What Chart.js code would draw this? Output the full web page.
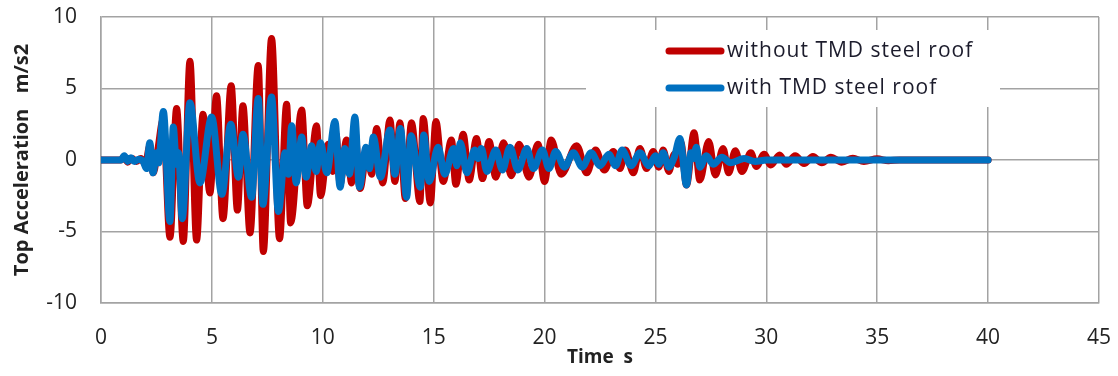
<!DOCTYPE html>
<html>
<head>
<meta charset="utf-8">
<script src="https://cdn.jsdelivr.net/npm/chart.js@4.4.1/dist/chart.umd.min.js"></script>
<style>
  html, body { margin: 0; padding: 0; background: #fff; }
  #wrap { width: 1118px; height: 376px; }
</style>
</head>
<body>
<div id="wrap"><canvas id="myChart" width="1118" height="376"></canvas></div>
<script>
// time (s) / top acceleration (m/s2), peaks and troughs
const redTime = [0, 0.9, 1.05, 1.2, 1.4, 1.6, 1.8, 2.0, 2.2, 2.35, 2.55, 2.8, 3.11, 3.41, 3.71, 4.01, 4.31, 4.6, 4.91, 5.21,
  5.5, 5.87, 6.15, 6.4, 6.72, 7.09, 7.32, 7.69, 8.05, 8.37, 8.55, 9.05, 9.3, 9.72, 9.9, 10.25, 10.45, 10.6, 10.78, 11.07,
  11.3, 11.45, 11.68, 12.0, 12.2, 12.43, 12.7, 13.03, 13.25, 13.48, 13.72, 14.0, 14.38, 14.53, 14.85, 15.1, 15.43, 15.8, 16.0, 16.33,
  16.6, 16.93, 17.2, 17.5, 17.8, 18.15, 18.5, 18.85, 19.3, 19.7, 20.0, 20.3, 20.75, 21.45, 21.9, 22.3, 22.7, 23.1, 23.4, 23.65,
  24.0, 24.3, 24.6, 24.9, 25.15, 25.35, 25.6, 25.85, 26.0, 26.15, 26.4, 26.74, 27.0, 27.4, 27.7, 28.05, 28.3, 28.6, 28.9, 29.3,
  29.55, 29.9, 30.2, 30.6, 30.9, 31.3, 31.7, 32.1, 32.5, 32.9, 33.4, 33.9, 34.4, 35.0, 35.5, 36.0, 40.0]
const redAccel = [0, 0, 0.25, -0.15, 0.1, -0.1, 0.1, -0.3, 1.0, -0.9, 0.6, 2.8, -5.4, 3.6, -5.7, 6.9, -5.6, 3.2, -2.3, 4.5,
  -4.1, 5.2, -3.5, 3.8, -5.1, 6.6, -6.4, 8.5, -5.5, 3.9, -4.4, 3.5, -3.2, 2.4, -2.5, 1.1, -0.8, 1.8, -1.7, 1.4,
  -1.6, 2.0, -2.0, 0.8, -1.0, 2.2, -1.6, 2.8, -1.5, 2.6, -2.7, 2.6, -2.9, 2.9, -3.0, 2.7, -1.5, 1.4, -1.7, 1.8,
  -1.4, 1.5, -1.3, 1.3, -1.2, 1.2, -1.1, 1.1, -1.2, 1.1, -1.5, 1.4, -1.0, 1.0, -0.9, 0.7, -0.7, 0.6, -0.6, 0.7,
  -0.9, 0.8, -0.6, 0.6, -0.5, 0.7, -0.8, 0.4, -0.3, 1.2, -1.75, 1.9, -1.4, 1.3, -1.05, 0.8, -0.9, 0.65, -0.8, 0.5,
  -0.45, 0.4, -0.35, 0.35, -0.3, 0.3, -0.25, 0.25, -0.2, 0.2, -0.15, 0.12, -0.1, 0.08, -0.05, 0, 0]

const blueTime = [0, 0.9, 1.05, 1.2, 1.35, 1.5, 1.7, 1.9, 2.05, 2.2, 2.35, 2.5, 2.6, 2.81, 3.11, 3.26, 3.4, 3.5, 3.66, 4.01,
  4.46, 4.99, 5.45, 5.85, 6.2, 6.4, 6.79, 7.09, 7.3, 7.69, 8.0, 8.3, 8.45, 8.6, 8.8, 9.05, 9.25, 9.5, 9.7, 9.9,
  10.18, 10.55, 10.78, 11.0, 11.2, 11.45, 11.65, 11.95, 12.1, 12.28, 12.6, 13.03, 13.25, 13.5, 13.78, 13.98, 14.4, 14.55, 14.8, 15.2,
  15.5, 15.9, 16.05, 16.2, 16.5, 16.85, 17.0, 17.15, 17.4, 17.8, 18.1, 18.44, 18.8, 19.2, 19.5, 19.9, 20.2, 20.5, 20.9, 21.3,
  21.7, 22.1, 22.5, 22.9, 23.2, 23.5, 23.9, 24.3, 24.7, 25.0, 25.15, 25.35, 25.6, 25.85, 26.1, 26.4, 26.6, 26.7, 26.85, 27.0,
  27.3, 27.6, 28.0, 28.4, 29.0, 29.5, 30.0, 40.0]
const blueAccel = [0, 0, 0.3, -0.1, 0.15, -0.1, 0.05, -0.1, -0.6, 1.2, -0.9, 0.5, -0.2, 3.4, -4.3, 2.3, -0.3, 0.5, -4.1, 4.0,
  -1.6, 3.0, -2.4, 2.5, -1.2, 1.8, -2.6, 4.3, -3.1, 4.4, -3.6, 0.5, -1.0, 2.4, -1.6, 1.6, -1.2, 1.0, -0.8, 1.2,
  -0.9, 2.7, -1.9, 0.8, -1.0, 3.0, -1.9, 0.9, -0.6, 1.6, -1.2, 2.1, -1.0, 2.2, -2.6, 1.7, -1.9, 1.75, -1.5, 0.9,
  -1.0, 0.8, -0.4, 1.2, -0.9, 0.7, 0.1, 0.8, -0.8, 0.7, -0.7, 0.9, -0.7, 0.8, -0.6, 0.7, -0.6, 0.6, -0.5, 0.5,
  -0.5, 0.5, -0.4, 0.4, -0.4, 0.7, -0.4, 0.5, -0.4, 0.3, -0.3, 0.5, -0.5, 0.2, 1.5, -1.75, 0.5, 0.1, 0.9, -0.5,
  0.3, -0.3, 0.2, -0.2, 0.1, -0.1, 0, 0]

const xTicks = [0, 5, 10, 15, 20, 25, 30, 35, 40, 45]
const yTicks = [-10, -5, 0, 5, 10]

const toPoints = (times, values) => times.map((t, i) => ({ x: t, y: values[i] }))

const GRID = '#a3a3a3'
const TEXT = '#222'
const FONT = "'Open Sans', 'Liberation Sans', sans-serif"

// legend sits inside the plot, top right, on a white box
const insideLegend = {
  id: 'insideLegend',
  afterDraw(chart) {
    const { ctx } = chart
    const box = { x: 586, y: 30, w: 414, h: 77 }
    ctx.save()
    ctx.fillStyle = '#fff'
    ctx.fillRect(box.x, box.y, box.w, box.h)
    ctx.font = `21px ${FONT}`
    ctx.letterSpacing = '1px'
    ctx.textBaseline = 'middle'
    ctx.textAlign = 'left'
    const rows = [chart.data.datasets[0], chart.data.datasets[1]]
    rows.forEach((ds, i) => {
      const y = 51 + i * 37
      ctx.strokeStyle = ds.borderColor
      ctx.lineWidth = 7
      ctx.lineCap = 'round'
      ctx.beginPath()
      ctx.moveTo(669, y)
      ctx.lineTo(721, y)
      ctx.stroke()
      ctx.fillStyle = '#1c1c2c'
      ctx.fillText(ds.label, 727, y)
    })
    ctx.restore()
  },
}

const noScalePadding = (scale) => {
  scale.paddingTop = 0
  scale.paddingBottom = 0
  scale.paddingLeft = 0
  scale.paddingRight = 0
}

const ctx = document.getElementById('myChart').getContext('2d')
const myChart = new Chart(ctx, {
  type: 'line',
  data: {
    datasets: [
      {
        label: 'without TMD steel roof',
        data: toPoints(redTime, redAccel),
        borderColor: '#c00000',
        borderWidth: 7,
        order: 2,
      },
      {
        label: 'with TMD steel roof',
        data: toPoints(blueTime, blueAccel),
        borderColor: '#0070c0',
        borderWidth: 7,
        order: 1,
      },
    ],
  },
  options: {
    responsive: false,
    animation: false,
    layout: { padding: { left: 0, top: 17, right: 19, bottom: 0 } },
    elements: {
      point: { radius: 0 },
      line: { cubicInterpolationMode: 'monotone', borderJoinStyle: 'round', borderCapStyle: 'round' },
    },
    plugins: {
      legend: { display: false },
      tooltip: { enabled: false },
    },
    scales: {
      x: {
        type: 'linear',
        min: 0,
        max: 45,
        afterBuildTicks: (scale) => { scale.ticks = xTicks.map((v) => ({ value: v })) },
        afterFit: (scale) => { scale.height = 73; noScalePadding(scale) },
        grid: { color: GRID, lineWidth: 1.5, drawTicks: false },
        border: { color: GRID, width: 1.5 },
        ticks: { color: TEXT, font: { family: FONT, size: 21 }, padding: 22, maxRotation: 0 },
        title: {
          display: true,
          text: 'Time  s',
          color: TEXT,
          font: { family: FONT, size: 19, weight: 'bold' },
          padding: { top: 0, bottom: 7 },
        },
      },
      y: {
        min: -10,
        max: 10,
        afterBuildTicks: (scale) => { scale.ticks = yTicks.map((v) => ({ value: v })) },
        afterFit: (scale) => { scale.width = 101; noScalePadding(scale) },
        grid: { color: GRID, lineWidth: 1.5, drawTicks: false },
        border: { color: GRID, width: 1.5 },
        ticks: { color: TEXT, font: { family: FONT, size: 21 }, padding: 24 },
        title: {
          display: true,
          text: 'Top Acceleration   m/s2',
          color: TEXT,
          font: { family: FONT, size: 20, weight: 'bold' },
          padding: { top: 10, bottom: 0 },
        },
      },
    },
  },
  plugins: [insideLegend],
})
</script>
</body>
</html>
